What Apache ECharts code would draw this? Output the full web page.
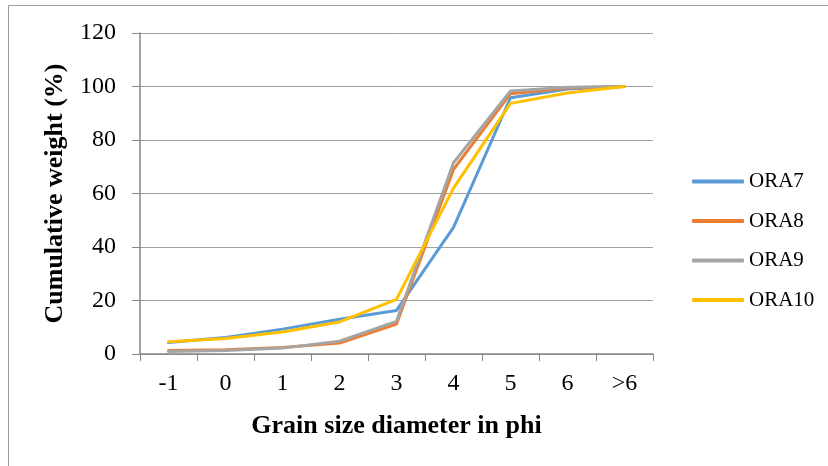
<!DOCTYPE html>
<html>
<head>
<meta charset="utf-8">
<script src="https://cdn.jsdelivr.net/npm/echarts@6/dist/echarts.min.js"></script>
<style>html,body{margin:0;padding:0;background:#fff}#c{width:828px;height:466px}</style>
</head>
<body>
<div id="c"></div>
<script>
var categories = ['-1', '0', '1', '2', '3', '4', '5', '6', '>6'];
var ora7 = [4.3, 6.2, 9.3, 13.0, 16.3, 47.3, 95.8, 99.1, 100];
var ora8 = [1.3, 1.6, 2.4, 4.1, 11.2, 69.0, 97.3, 99.4, 100];
var ora9 = [0.9, 1.3, 2.2, 4.8, 12.2, 71.5, 98.3, 99.7, 100];
var ora10 = [4.6, 5.8, 8.2, 12.0, 20.4, 62.0, 93.7, 97.6, 100];
var seriesNames = ['ORA7', 'ORA8', 'ORA9', 'ORA10'];
var seriesData = [ora7, ora8, ora9, ora10];
var colors = ['#5B9BD5', '#ED7D31', '#A5A5A5', '#FFC000'];

var font = '"Liberation Serif", "Times New Roman", serif';
var chart = echarts.init(document.getElementById('c'), null, {renderer: 'canvas'});
chart.setOption({
  animation: false,
  color: colors,
  graphic: [{
    type: 'rect', silent: true, z: -1,
    shape: {x: 8.5, y: 5.5, width: 900, height: 600},
    style: {fill: 'none', stroke: '#9a9a9a', lineWidth: 1}
  }],
  grid: {left: 140, right: 175, top: 33, bottom: 112, containLabel: false},
  legend: {
    orient: 'vertical', left: 692, top: 171, padding: 0,
    itemWidth: 52, itemHeight: 4, itemGap: 18.5,
    icon: 'roundRect',
    textStyle: {fontFamily: font, fontSize: 21, color: '#000', lineHeight: 20},
    data: seriesNames
  },
  xAxis: {
    type: 'category', data: categories, boundaryGap: true,
    name: 'Grain size diameter in phi', nameLocation: 'middle', nameGap: 59,
    nameTextStyle: {fontFamily: font, fontSize: 26, fontWeight: 'bold', color: '#000'},
    axisLine: {lineStyle: {color: '#868686', width: 1.5}},
    axisTick: {show: true, length: 7, lineStyle: {color: '#868686', width: 1}},
    axisLabel: {fontFamily: font, fontSize: 24, color: '#000', margin: 18}
  },
  yAxis: {
    type: 'value', min: 0, max: 120, interval: 20,
    name: 'Cumulative weight (%)', nameLocation: 'middle', nameGap: 72,
    nameTextStyle: {fontFamily: font, fontSize: 26, fontWeight: 'bold', color: '#000'},
    axisLine: {show: true, lineStyle: {color: '#868686', width: 1.5}},
    axisTick: {show: true, length: 8, lineStyle: {color: '#868686', width: 1}},
    axisLabel: {fontFamily: font, fontSize: 24, color: '#000', margin: 24},
    splitLine: {lineStyle: {color: '#a0a0a0', width: 1}}
  },
  series: seriesNames.map(function (n, i) {
    return {
      name: n, type: 'line', data: seriesData[i],
      symbol: 'none', smooth: false,
      lineStyle: {width: 3, color: colors[i], cap: 'round', join: 'round'}
    };
  })
});
</script>
</body>
</html>
